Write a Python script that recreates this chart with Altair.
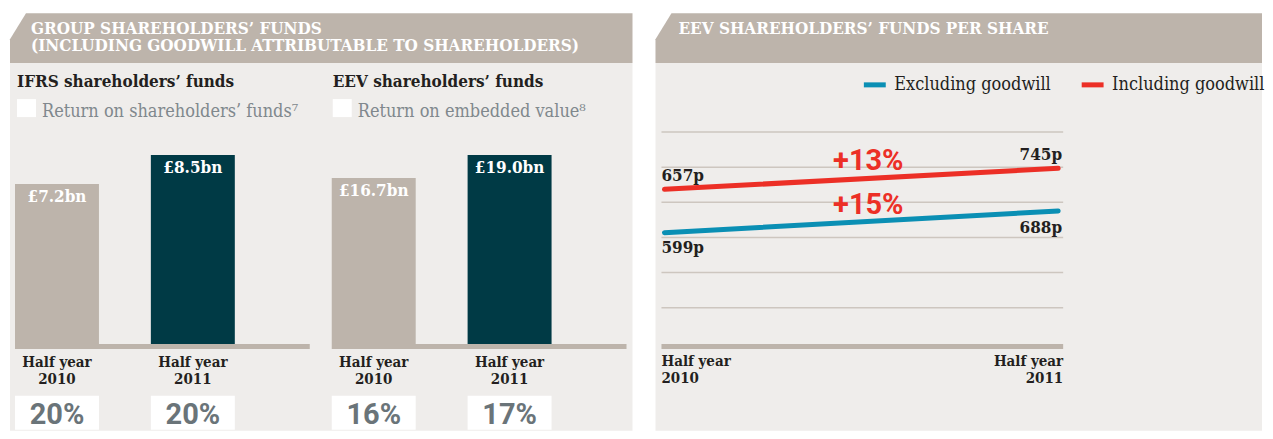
import altair as alt
import pandas as pd

# ---------------- data ----------------
periods = ["Half year 2010", "Half year 2011"]
period_labels = ["Half year\n2010", "Half year\n2011"]

ifrs_values = [7.2, 8.5]
ifrs_labels = ["£7.2bn", "£8.5bn"]
ifrs_returns = ["20%", "20%"]

eev_values = [16.7, 19.0]
eev_labels = ["£16.7bn", "£19.0bn"]
eev_returns = ["16%", "17%"]

series = ["Excluding goodwill", "Including goodwill"]
excl_values = [599, 688]
incl_values = [657, 745]
excl_change = "+15%"
incl_change = "+13%"

grid_levels = [1, 2, 3, 4, 5, 6]

# ---------------- style ----------------
TAUPE = "#bdb4ab"
BODY = "#efedeb"
DARK = "#003a45"
RED = "#ec2f26"
BLUE = "#0a8fb4"
INK = "#231f20"
SUBGRAY = "#80888d"
PCTGRAY = "#6a7479"
GRID = "#cdc6bf"
SERIF = "DejaVu Serif Condensed"
SANS = "Roboto"

W1, W2, H = 623, 607, 418
one = alt.Data(values=[{}])


def panel_base(width, title, title_x, subtitle_layers):
    bg = alt.Chart(one).mark_rect(color=BODY).encode(
        x=alt.value(0), x2=alt.value(width), y=alt.value(50), y2=alt.value(H))
    header = alt.Chart(one).mark_point(
        shape=f"M16,0L{width},0L{width},50L0,50L0,26Z", size=4, filled=True,
        color=TAUPE, opacity=1, strokeWidth=0).encode(x=alt.value(0), y=alt.value(0))
    htext = alt.Chart(one).mark_text(
        text=title, align="left", baseline="alphabetic", font=SERIF, fontSize=17,
        fontWeight="bold", color="white", lineBreak="\n", lineHeight=17).encode(
        x=alt.value(title_x), y=alt.value(21))
    return [bg, header, htext] + subtitle_layers


def subtitle(x0, title, sub):
    t = alt.Chart(one).mark_text(
        text=title, align="left", baseline="alphabetic", font=SERIF, fontSize=17,
        fontWeight="bold", color=INK).encode(x=alt.value(x0), y=alt.value(74))
    box = alt.Chart(one).mark_rect(color="white").encode(
        x=alt.value(x0), x2=alt.value(x0 + 19), y=alt.value(86), y2=alt.value(104))
    s = alt.Chart(one).mark_text(
        text=sub, align="left", baseline="alphabetic", font=SERIF, fontSize=18,
        color=SUBGRAY).encode(x=alt.value(x0 + 25), y=alt.value(104))
    return [t, box, s]


def bar_group(values, labels, returns, xr, ymax, strip):
    df = pd.DataFrame({"period": periods, "value": values, "label": labels,
                       "ret": returns, "plabel": period_labels})
    x = alt.X("period:N", scale=alt.Scale(domain=periods, range=xr,
                                          paddingInner=0.382, paddingOuter=0), axis=None)
    y = alt.Y("value:Q", scale=alt.Scale(domain=[0, ymax], range=[331, 142], nice=False,
                                         zero=True), axis=None)
    base = alt.Chart(df)
    strip_m = alt.Chart(one).mark_rect(color=TAUPE).encode(
        x=alt.value(strip[0]), x2=alt.value(strip[1]), y=alt.value(331), y2=alt.value(336))
    bars = base.mark_bar().encode(
        x=x, y=y,
        color=alt.Color("period:N", scale=alt.Scale(domain=periods, range=[TAUPE, DARK]),
                        legend=None))
    vals = base.mark_text(baseline="alphabetic", dy=18, font=SERIF, fontSize=17,
                          fontWeight="bold", color="white").encode(x=x, y=y, text="label:N")
    plab = base.mark_text(baseline="alphabetic", font=SERIF, fontSize=15, fontWeight="bold",
                          color=INK, lineBreak="\n", lineHeight=17).encode(
        x=x, y=alt.value(354), text="plabel:N")
    boxes = base.mark_rect(color="white").encode(x=x, y=alt.value(383), y2=alt.value(417))
    pct = base.mark_text(baseline="alphabetic", font=SANS, fontSize=29, fontWeight="bold",
                         color=PCTGRAY).encode(x=x, y=alt.value(411), text="ret:N")
    return alt.layer(strip_m, bars, vals, plab, boxes, pct)


left_layers = panel_base(
    W1, "GROUP SHAREHOLDERS’ FUNDS\n(INCLUDING GOODWILL ATTRIBUTABLE TO SHAREHOLDERS)", 21,
    subtitle(7, "IFRS shareholders’ funds", "Return on shareholders’ funds⁷")
    + subtitle(323, "EEV shareholders’ funds", "Return on embedded value⁸"))
left = alt.layer(
    *left_layers,
    bar_group(ifrs_values, ifrs_labels, ifrs_returns, [5, 225], 8.5, [5, 300]),
    bar_group(eev_values, eev_labels, eev_returns, [322, 542], 19.0, [322, 617]),
).resolve_scale(x="independent", y="independent", color="independent").properties(
    width=W1, height=H)

# ---------------- right panel ----------------
RIGHT_OFFSET = W1 + 23  # legend is placed in the whole chart's coordinates
xP = alt.X("period:N", scale=alt.Scale(type="point", domain=periods, range=[9, 403],
                                       padding=0), axis=None)
color = alt.Color("series:N", scale=alt.Scale(domain=series, range=[BLUE, RED]),
                  legend=alt.Legend(title=None, orient="none", direction="horizontal",
                                    legendX=RIGHT_OFFSET + 206, legendY=58,
                                    symbolType="stroke", symbolSize=480,
                                    symbolStrokeWidth=5, labelFont=SERIF,
                                    labelFontSize=18, labelColor=INK, labelOffset=6,
                                    columnPadding=20, padding=0, labelLimit=400))


def series_layer(name, values, change, yr, dys, dy_change):
    df = pd.DataFrame({"series": [name, name], "period": periods, "value": values})
    y = alt.Y("value:Q", scale=alt.Scale(domain=[values[0], values[1]], range=yr, nice=False,
                                         zero=False), axis=None)
    base = alt.Chart(df)
    line = base.mark_line(strokeWidth=5, strokeCap="round").encode(x=xP, y=y, color=color)
    txt = dict(baseline="alphabetic", font=SERIF, fontSize=17, fontWeight="bold", color=INK)
    lft = base.transform_filter(alt.datum.period == periods[0]).transform_calculate(
        lbl="datum.value + 'p'").mark_text(align="left", dx=-3, dy=dys[0], **txt).encode(
        x=xP, y=y, text="lbl:N")
    rgt = base.transform_filter(alt.datum.period == periods[1]).transform_calculate(
        lbl="datum.value + 'p'").mark_text(align="right", dx=4, dy=dys[1], **txt).encode(
        x=xP, y=y, text="lbl:N")
    chg = base.transform_aggregate(value="mean(value)").mark_text(
        text=change, baseline="middle", dy=dy_change, font=SANS, fontSize=29,
        fontWeight="bold", color=RED).encode(x=alt.value(213), y=y)
    return alt.layer(line, lft, rgt, chg)


grid_df = pd.DataFrame({"level": grid_levels})
grid = alt.Chart(grid_df).mark_rule(color=GRID, strokeWidth=1.5).encode(
    y=alt.Y("level:Q", scale=alt.Scale(domain=[0, 6], range=[330, 119]), axis=None),
    x=alt.value(6), x2=alt.value(408))
strip_r = alt.Chart(one).mark_rect(color=TAUPE).encode(
    x=alt.value(6), x2=alt.value(408), y=alt.value(331), y2=alt.value(336))

plab_df = pd.DataFrame({"period": periods, "plabel": period_labels})
ptxt = dict(baseline="alphabetic", font=SERIF, fontSize=15, fontWeight="bold", color=INK,
            lineBreak="\n", lineHeight=17)
plab_l = alt.Chart(plab_df).transform_filter(alt.datum.period == periods[0]).mark_text(
    align="left", dx=-3, **ptxt).encode(x=xP, y=alt.value(353), text="plabel:N")
plab_r = alt.Chart(plab_df).transform_filter(alt.datum.period == periods[1]).mark_text(
    align="right", dx=5, **ptxt).encode(x=xP, y=alt.value(353), text="plabel:N")

right_layers = panel_base(W2, "EEV SHAREHOLDERS’ FUNDS PER SHARE", 23, [])
right = alt.layer(
    *right_layers, grid, strip_r,
    series_layer(series[0], excl_values, excl_change, [219.7, 198], [20, 22], -17),
    series_layer(series[1], incl_values, incl_change, [176.3, 155.3], [-8, -8], -18),
    plab_l, plab_r,
).resolve_scale(y="independent").properties(width=W2, height=H)

chart = alt.hconcat(left, right, spacing=23, bounds="flush").properties(
    padding={"left": 2, "top": 5, "right": 0, "bottom": 0},
    background="white",
).configure_view(stroke=None)

chart.save("out.html", embed_options={"renderer": "svg", "actions": False})
